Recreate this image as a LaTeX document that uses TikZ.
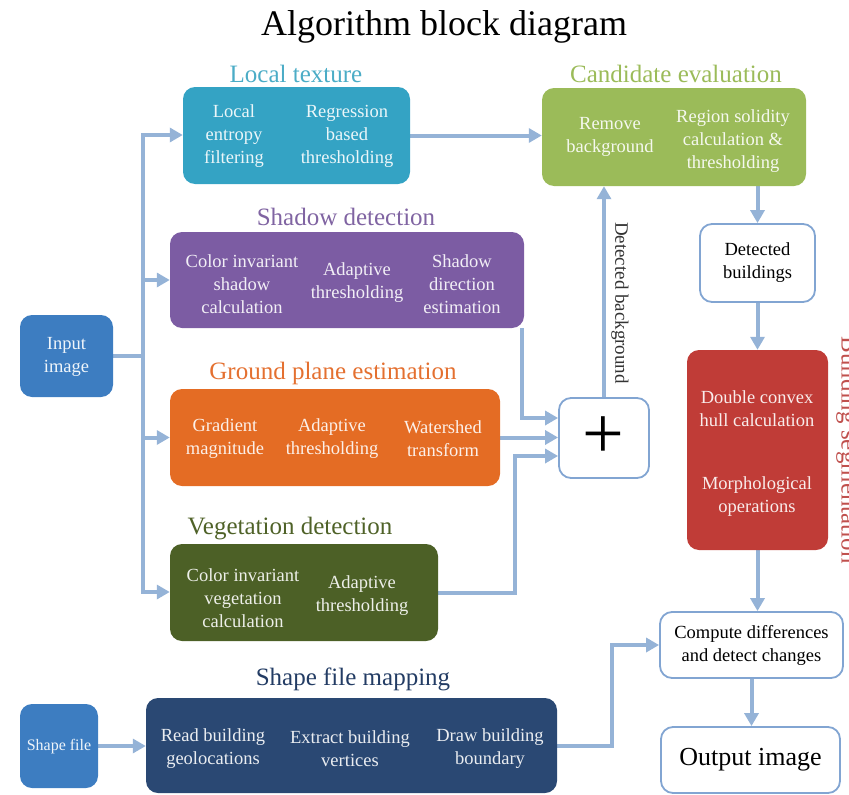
\documentclass[tikz,border=0pt]{standalone}
\usepackage{fontspec}
\setmainfont{Liberation Serif}
\usetikzlibrary{arrows.meta}
\pgfdeclarelayer{background}
\pgfsetlayers{background,main}

\definecolor{ltcol}{RGB}{52,163,196}
\definecolor{ltlab}{RGB}{75,172,198}
\definecolor{cecol}{RGB}{155,187,89}
\definecolor{celab}{RGB}{155,187,89}
\definecolor{sdcol}{RGB}{124,92,163}
\definecolor{sdlab}{RGB}{128,100,162}
\definecolor{gpcol}{RGB}{228,108,36}
\definecolor{gplab}{RGB}{228,112,48}
\definecolor{vdcol}{RGB}{76,96,38}
\definecolor{vdlab}{RGB}{79,98,40}
\definecolor{incol}{RGB}{61,125,193}
\definecolor{smcol}{RGB}{42,72,115}
\definecolor{smlab}{RGB}{35,60,100}
\definecolor{bscol}{RGB}{192,60,55}
\definecolor{bslab}{RGB}{192,80,77}
\definecolor{lineblue}{RGB}{149,179,215}
\definecolor{edgeblue}{RGB}{130,165,210}

\begin{document}
\begin{tikzpicture}[x=1pt,y=-1pt,
  blk/.style={rounded corners=12pt, inner sep=0pt, draw=none},
  wbox/.style={rounded corners=12pt, inner sep=0pt, draw=edgeblue, line width=1.8pt, fill=white},
  itxt/.style={align=center, inner sep=0pt, font=\fontsize{18.5}{23}\selectfont},
  lbl/.style={inner sep=0pt, font=\fontsize{25}{28}\selectfont},
  conn/.style={draw=lineblue, line width=4pt, -{Triangle[length=13pt,width=14pt]}}
]
\useasboundingbox (0,0) rectangle (849,795);

% title
\node[inner sep=0pt, font=\fontsize{36}{40}\selectfont] (title) at (444,27) {Algorithm block diagram};

% section labels
\node[lbl, text=ltlab] (ltl) at (296,74) {Local texture};
\node[lbl, text=celab] (cel) at (676,74) {Candidate evaluation};
\node[lbl, text=sdlab] (sdl) at (346,217) {Shadow detection};
\node[lbl, text=gplab] (gpl) at (333,373) {Ground plane estimation};
\node[lbl, text=vdlab] (vdl) at (290,529) {Vegetation detection};
\node[lbl, text=smlab] (sml) at (353,679) {Shape file mapping};
\node[lbl, text=bslab, rotate=-90, anchor=south] (bsl) at (836,450) {Building segmentation};

% coloured process blocks
\node[blk, fill=ltcol, minimum width=227pt, minimum height=97pt] (lt) at (296.5,135.5) {};
\node[itxt, text=white!90!ltcol] (lt1) at (234,136) {Local\\entropy\\filtering};
\node[itxt, text=white!90!ltcol] (lt2) at (347,136) {Regression\\based\\thresholding};

\node[blk, fill=cecol, minimum width=264pt, minimum height=98pt] (ce) at (674,137) {};
\node[itxt, text=white!90!cecol] (ce1) at (610,137) {Remove\\background};
\node[itxt, text=white!90!cecol] (ce2) at (733,141) {Region solidity\\calculation \&\\thresholding};

\node[blk, fill=sdcol, minimum width=354pt, minimum height=96pt] (sd) at (347,280) {};
\node[itxt, text=white!90!sdcol] (sd1) at (242,284) {Color invariant\\shadow\\calculation};
\node[itxt, text=white!90!sdcol] (sd2) at (357,283) {Adaptive\\thresholding};
\node[itxt, text=white!90!sdcol] (sd3) at (462,284) {Shadow\\direction\\estimation};

\node[blk, fill=incol, minimum width=93pt, minimum height=82pt] (in) at (66.5,356) {};
\node[itxt, text=white!92!incol] (in1) at (66.5,357) {Input\\image};

\node[blk, fill=gpcol, minimum width=330pt, minimum height=97pt] (gp) at (335,437.5) {};
\node[itxt, text=white!90!gpcol] (gp1) at (225,439) {Gradient\\magnitude};
\node[itxt, text=white!90!gpcol] (gp2) at (332,439) {Adaptive\\thresholding};
\node[itxt, text=white!90!gpcol] (gp3) at (443,439) {Watershed\\transform};

\node[blk, fill=vdcol, minimum width=268pt, minimum height=97pt] (vd) at (304,592.5) {};
\node[itxt, text=white!90!vdcol] (vd1) at (243,598) {Color invariant\\vegetation\\calculation};
\node[itxt, text=white!90!vdcol] (vd2) at (362,596) {Adaptive\\thresholding};

\node[blk, fill=incol, minimum width=78pt, minimum height=84pt] (sf) at (59,746) {};
\node[itxt, text=white!92!incol, font=\fontsize{16}{20}\selectfont] (sf1) at (59,747) {Shape file};

\node[blk, fill=smcol, minimum width=411pt, minimum height=95pt] (sm) at (351.5,745.5) {};
\node[itxt, text=white!90!smcol] (sm1) at (213,749) {Read building\\geolocations};
\node[itxt, text=white!90!smcol] (sm2) at (350,749) {Extract building\\vertices};
\node[itxt, text=white!90!smcol] (sm3) at (490,749) {Draw building\\boundary};

\node[blk, fill=bscol, minimum width=141pt, minimum height=200pt] (bs) at (757.5,450) {};
\node[itxt, text=white!90!bscol] (bs1) at (757,409) {Double convex\\hull calculation};
\node[itxt, text=white!90!bscol] (bs2) at (757,497) {Morphological\\operations};

% white result blocks
\node[wbox, minimum width=90pt, minimum height=80pt] (pl) at (604,438) {};
\node[inner sep=0pt, font=\fontsize{74}{78}\selectfont] (plus) at (603.5,438) {+};
\node[wbox, minimum width=115pt, minimum height=78pt, align=center, font=\fontsize{18.5}{23}\selectfont] (db) at (757.5,263) {Detected\\buildings};
\node[wbox, minimum width=183pt, minimum height=66pt, align=center, font=\fontsize{18.5}{23}\selectfont] (cd) at (751.5,645) {Compute differences\\and detect changes};
\node[wbox, minimum width=179pt, minimum height=66pt, font=\fontsize{26}{29}\selectfont] (oi) at (750.5,760) {Output image};

% connectors
\begin{pgfonlayer}{background}
\coordinate (trtop) at (143,135);
\coordinate (trbot) at (143,592);
\draw[conn] (in.east) -| (trtop) -- (trtop -| lt.west);
\draw[conn] (in.east) -| (trbot) -- (trbot -| vd.west);
\draw[conn] (trtop |- sd.west) -- (sd.west);
\draw[conn] (trtop |- gp.west) -- (gp.west);
\draw[conn] (lt.east) -- (lt.east -| ce.west);
\draw[conn] ([xshift=-2pt]sd.south east) |- ([yshift=20pt]pl.west);
\draw[conn] (gp.east) -- (gp.east -| pl.west);
\draw[conn] (vd.east) -- ++(77,0) |- ([yshift=-18pt]pl.west);
\draw[conn] (pl.north) -- (pl.north |- ce.south);
\draw[conn] (ce.south -| db.north) -- (db.north);
\draw[conn] (db.south) -- (bs.north);
\draw[conn] (bs.south) -- (bs.south |- cd.north);
\draw[conn] (sm.east) -- ++(55,0) |- (cd.west);
\draw[conn] (cd.south) -- (cd.south |- oi.north);
\draw[conn] (sf.east) -- (sf.east -| sm.west);
\end{pgfonlayer}
\node[rotate=-90, anchor=south, inner sep=0pt, font=\fontsize{19}{22}\selectfont, text=black!80] (dbl) at (611,303) {Detected background};
\end{tikzpicture}
\end{document}
